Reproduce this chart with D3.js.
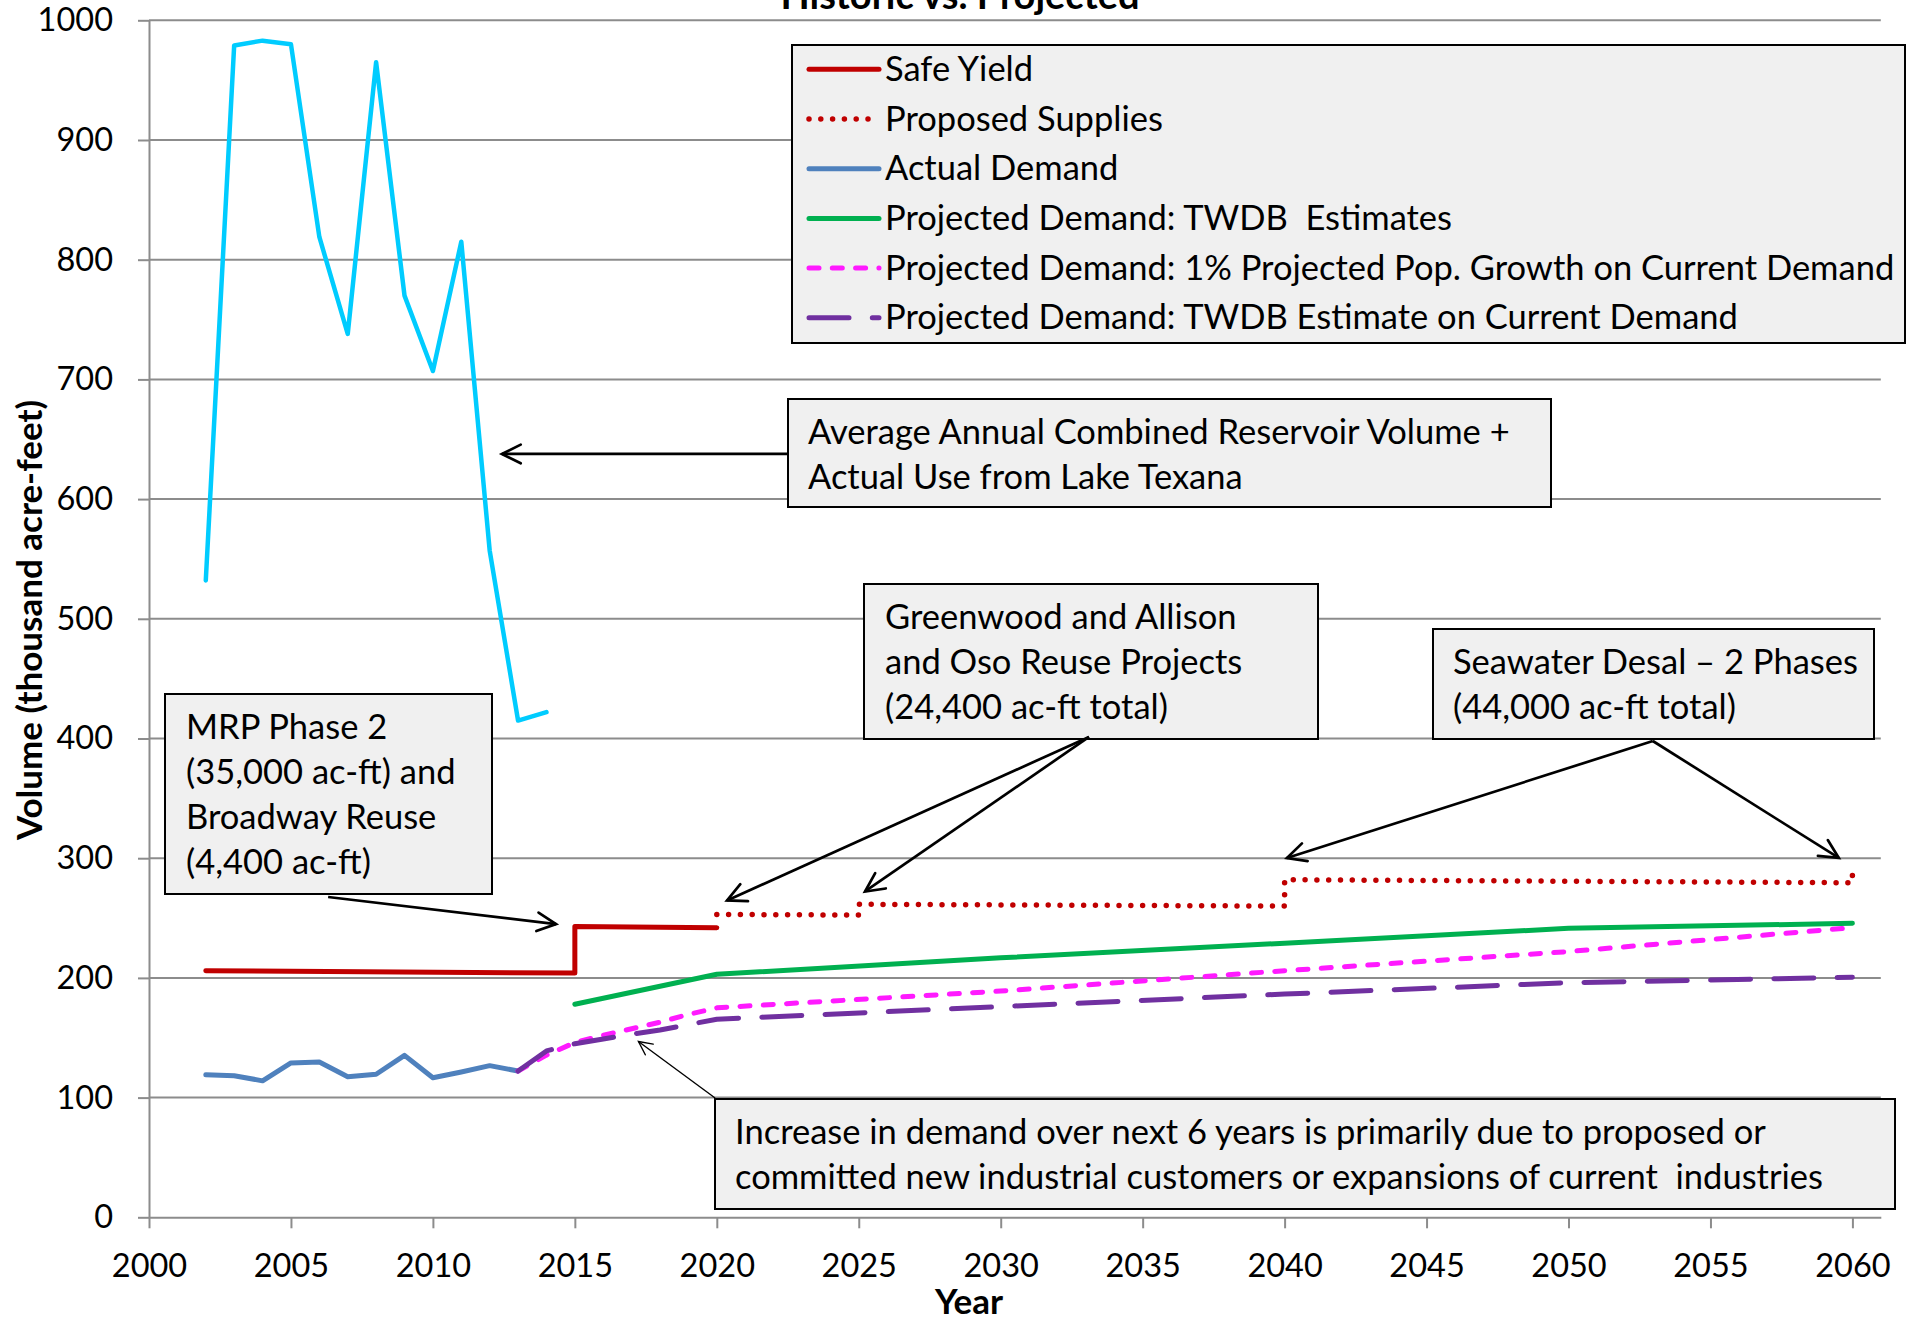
<!DOCTYPE html>
<html>
<head>
<meta charset="utf-8">
<script src="https://cdn.jsdelivr.net/npm/d3@7"></script>
<style>
body { margin: 0; background: #ffffff; }
svg { display: block; font-family: Lato, Carlito, "Open Sans", sans-serif; }
text { white-space: pre; }
</style>
</head>
<body>
<svg id="chart" width="1907" height="1321"></svg>
<script>
// tick labels
var xTickLabels = [2000, 2005, 2010, 2015, 2020, 2025, 2030, 2035, 2040, 2045, 2050, 2055, 2060];
var yTickLabels = [0, 100, 200, 300, 400, 500, 600, 700, 800, 900, 1000];

// series (thousand acre-feet)
var reservoirYears = [2002, 2003, 2004, 2005, 2006, 2007, 2008, 2009, 2010, 2011, 2012, 2013, 2014];
var reservoirVolume = [532, 979, 983, 980, 819, 738, 965, 770, 707, 815, 557, 415, 422];

var actualYears = [2002, 2003, 2004, 2005, 2006, 2007, 2008, 2009, 2010, 2011, 2012, 2013];
var actualDemand = [119, 118.3, 114, 129, 129.7, 117.5, 119.5, 135.3, 116.6, 121.4, 126.7, 122.2];

var safeYieldYears = [2002, 2015, 2015, 2020];
var safeYield = [206, 204, 243, 242];

var proposedYears = [2020, 2025, 2025, 2040, 2040, 2060, 2060];
var proposedSupplies = [253, 252.5, 261.5, 260, 282, 279.5, 293];

var twdbYears = [2015, 2020, 2030, 2040, 2050, 2060];
var twdbDemand = [178, 203, 216.8, 229, 241.4, 245.6];

var growthYears = [2013, 2014, 2015, 2016, 2017, 2018, 2019, 2020, 2030, 2040, 2050, 2060];
var growthDemand = [122.2, 135.5, 146, 152, 157.5, 163, 169.5, 175, 189, 206, 222, 242];

var twdbCurrentYears = [2013, 2014, 2015, 2016, 2017, 2018, 2019, 2020, 2030, 2040, 2050, 2060];
var twdbCurrentDemand = [122.2, 139, 145, 149, 153, 156.5, 161, 165.5, 176, 186.5, 196, 200.5];

var legendLabels = [
    "Safe Yield",
    "Proposed Supplies",
    "Actual Demand",
    "Projected Demand: TWDB  Estimates",
    "Projected Demand: 1% Projected Pop. Growth on Current Demand",
    "Projected Demand: TWDB Estimate on Current Demand"
];

var svg = d3.select("#chart");
var x = d3.scaleLinear().domain([2000, 2061]).range([149, 1880.8]);
var y = d3.scaleLinear().domain([0, 1000]).range([1217.3, 20.3]);
var grid_color = "#8c8c8c";
var font_size = "34.5px";

// gridlines
svg.append("g").selectAll("line").
    data(yTickLabels.filter(function(v) { return v > 0; })).
    enter().append("line").
    attr("x1", x(2000)).attr("x2", x(2061)).
    attr("y1", function(v) { return y(v); }).
    attr("y2", function(v) { return y(v); }).
    attr("stroke", grid_color).attr("stroke-width", 2);

var y_axis = svg.append("g").
    attr("transform", "translate(" + x(2000) + ",0)").
    call(d3.axisLeft(y).tickValues(yTickLabels).tickSize(11).tickSizeOuter(0).tickPadding(25).tickFormat(d3.format("d")));
var x_axis = svg.append("g").
    attr("transform", "translate(0," + y(0) + ")").
    call(d3.axisBottom(x).tickValues(xTickLabels).tickSize(11).tickSizeOuter(0).tickPadding(26).tickFormat(d3.format("d")));
[x_axis, y_axis].forEach(function(axis)
{
    axis.attr("font-family", null).attr("font-size", null);
    axis.select(".domain").attr("stroke", grid_color).attr("stroke-width", 2);
    axis.selectAll(".tick line").attr("stroke", grid_color).attr("stroke-width", 2);
    axis.selectAll(".tick text").attr("fill", "#000").style("font-size", "32.5px");
});

// axis titles
svg.append("text").
    attr("x", 960).attr("y", 9).
    attr("text-anchor", "middle").
    style("font-weight", "bold").style("font-size", "38px").
    text("Historic vs. Projected");
svg.append("text").
    attr("transform", "translate(42,620) rotate(-90)").
    attr("text-anchor", "middle").
    style("font-weight", "bold").style("font-size", "35px").
    text("Volume (thousand acre-feet)");
svg.append("text").
    attr("x", 969).attr("y", 1314).
    attr("text-anchor", "middle").
    style("font-weight", "bold").style("font-size", "35px").
    text("Year");

// series
var series = [
    { years: safeYieldYears, values: safeYield, color: "#c00000", width: 5, dash: null },
    { years: proposedYears, values: proposedSupplies, color: "#c00000", width: 5.5, dash: "0 11.8" },
    { years: actualYears, values: actualDemand, color: "#4f81bd", width: 5, dash: null },
    { years: twdbYears, values: twdbDemand, color: "#00b050", width: 5, dash: null },
    { years: growthYears, values: growthDemand, color: "#ff1aff", width: 5, dash: "10 13.3" },
    { years: twdbCurrentYears, values: twdbCurrentDemand, color: "#7030a0", width: 5, dash: "40 23.3" },
    { years: reservoirYears, values: reservoirVolume, color: "#00ccff", width: 4.5, dash: null }
];
var line = d3.line().
    x(function(d) { return x(d[0]); }).
    y(function(d) { return y(d[1]); });
svg.append("g").selectAll("path").data(series).enter().append("path").
    attr("d", function(s) { return line(d3.zip(s.years, s.values)); }).
    attr("fill", "none").
    attr("stroke", function(s) { return s.color; }).
    attr("stroke-width", function(s) { return s.width; }).
    attr("stroke-dasharray", function(s) { return s.dash; }).
    attr("stroke-linecap", "round").
    attr("stroke-linejoin", "round");

// legend
var legend = svg.append("g");
legend.append("rect").
    attr("x", 792).attr("y", 45).attr("width", 1113).attr("height", 298).
    attr("fill", "#f0f0f0").attr("stroke", "#000").attr("stroke-width", 2);
var legend_rows = legend.selectAll("g.row").data(legendLabels).enter().append("g").
    attr("class", "row").
    attr("transform", function(d, i) { return "translate(0," + (69.3 + i * 49.7) + ")"; });
legend_rows.append("line").
    attr("x1", 809).attr("x2", 879).attr("y1", 0).attr("y2", 0).
    attr("stroke", function(d, i) { return series[i].color; }).
    attr("stroke-width", function(d, i) { return series[i].width; }).
    attr("stroke-dasharray", function(d, i) { return series[i].dash; }).
    attr("stroke-linecap", "round");
legend_rows.append("text").
    attr("x", 885).attr("y", 11.5).
    style("font-size", font_size).
    text(function(d) { return d; });

// annotation boxes
var notes = [
    { x: 788, y: 399, w: 763, h: 108, tx: 808, lines: ["Average Annual Combined Reservoir Volume +", "Actual Use from Lake Texana"], base: 444 },
    { x: 864, y: 584, w: 454, h: 155, tx: 885, lines: ["Greenwood and Allison", "and Oso Reuse Projects", "(24,400 ac-ft total)"], base: 629 },
    { x: 1433, y: 629, w: 441, h: 110, tx: 1453, lines: ["Seawater Desal \u2013 2 Phases", "(44,000 ac-ft total)"], base: 674 },
    { x: 165, y: 694, w: 327, h: 200, tx: 186, lines: ["MRP Phase 2", "(35,000 ac-ft) and", "Broadway Reuse", "(4,400 ac-ft)"], base: 739 },
    { x: 715, y: 1099, w: 1180, h: 110, tx: 735, lines: ["Increase in demand over next 6 years is primarily due to proposed or", "committed new industrial customers or expansions of current  industries"], base: 1144 }
];
var note_groups = svg.append("g").selectAll("g").data(notes).enter().append("g");
note_groups.append("rect").
    attr("x", function(n) { return n.x; }).attr("y", function(n) { return n.y; }).
    attr("width", function(n) { return n.w; }).attr("height", function(n) { return n.h; }).
    attr("fill", "#f0f0f0").attr("stroke", "#000").attr("stroke-width", 2);
note_groups.each(function(n)
{
    var text = d3.select(this).append("text").style("font-size", font_size);
    for (var i = 0; i < n.lines.length; i++)
    {
        text.append("tspan").attr("x", n.tx).attr("y", n.base + i * 45).text(n.lines[i]);
    }
});

// arrows, ends given as [year, value]
var arrows = [
    { from: [2022.51, 637.7], to: [2012.43, 637.7], width: 2.7, head: 21 },
    { from: [2033.11, 401.3], to: [2020.36, 264.7], width: 2.7, head: 21 },
    { from: [2033.11, 401.3], to: [2025.22, 272.2], width: 2.7, head: 21 },
    { from: [2052.97, 397.9], to: [2040.08, 300.2], width: 2.7, head: 21 },
    { from: [2052.97, 397.9], to: [2059.52, 300.2], width: 2.7, head: 21 },
    { from: [2006.31, 267.6], to: [2014.34, 245.0], width: 2.7, head: 21 },
    { from: [2019.94, 99.7], to: [2017.24, 146.9], width: 1.4, head: 15 }
];
var arrow_group = svg.append("g");
arrows.forEach(function(a)
{
    var x1 = x(a.from[0]), y1 = y(a.from[1]), x2 = x(a.to[0]), y2 = y(a.to[1]);
    var angle = Math.atan2(y2 - y1, x2 - x1);
    var spread = 0.46;
    arrow_group.append("line").
        attr("x1", x1).attr("y1", y1).attr("x2", x2).attr("y2", y2).
        attr("stroke", "#000").attr("stroke-width", a.width);
    arrow_group.append("path").
        attr("d", "M" + (x2 - a.head * Math.cos(angle - spread)) + "," + (y2 - a.head * Math.sin(angle - spread)) +
            "L" + x2 + "," + y2 +
            "L" + (x2 - a.head * Math.cos(angle + spread)) + "," + (y2 - a.head * Math.sin(angle + spread))).
        attr("fill", "none").attr("stroke", "#000").attr("stroke-width", a.width).
        attr("stroke-linecap", "round").attr("stroke-linejoin", "miter");
});
</script>
</body>
</html>
